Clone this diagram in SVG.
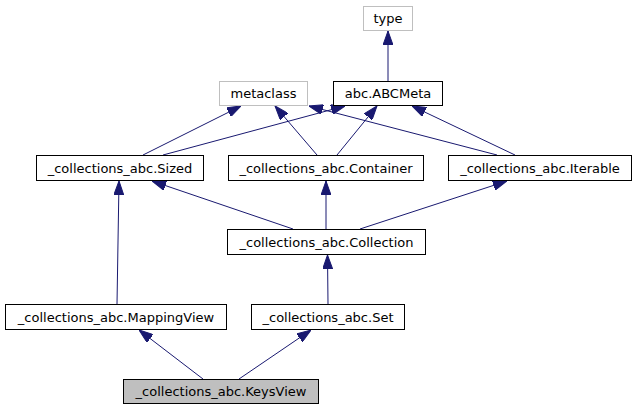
<svg xmlns="http://www.w3.org/2000/svg" width="637" height="411" viewBox="0 0 637 411">
<style>
.n rect{fill:#ffffff;stroke:#000000;stroke-width:1}
.g rect{stroke:#bfbfbf}
.cur rect{fill:#bfbfbf}
text{font-family:"DejaVu Sans",sans-serif;font-size:13px;text-anchor:middle;fill:#000000}
.e line{stroke:#191970;stroke-width:1;marker-end:url(#ah)}
</style>
<defs>
<marker id="ah" markerUnits="userSpaceOnUse" markerWidth="14" markerHeight="10" refX="14" refY="5" orient="auto">
<path d="M0,0 L14,5 L0,10 z" fill="#191970" stroke="#191970" stroke-width="1"/>
</marker>
</defs>
<rect width="637" height="411" fill="#ffffff"/>
<g id="edges" class="e">
<line x1="388" y1="81" x2="388" y2="31"/>
<line x1="143" y1="155" x2="241" y2="106"/>
<line x1="163" y1="155" x2="345" y2="106"/>
<line x1="317" y1="155" x2="275" y2="106"/>
<line x1="337" y1="155" x2="377" y2="106"/>
<line x1="497" y1="155" x2="309" y2="106"/>
<line x1="515" y1="155" x2="412" y2="106"/>
<line x1="293" y1="229" x2="152" y2="181"/>
<line x1="326" y1="229" x2="326" y2="181"/>
<line x1="360" y1="229" x2="507" y2="181"/>
<line x1="117" y1="304" x2="119" y2="181"/>
<line x1="328" y1="304" x2="327.5" y2="255"/>
<line x1="203" y1="379" x2="139" y2="330"/>
<line x1="239" y1="379" x2="311" y2="330"/>
</g>
<g id="type" class="n g"><rect x="363.5" y="6.5" width="49" height="24"/><text x="388" y="23">type</text></g>
<g id="metaclass" class="n g"><rect x="219.5" y="81.5" width="88" height="24"/><text x="263.5" y="98">metaclass</text></g>
<g id="ABCMeta" class="n"><rect x="333.5" y="81.5" width="109" height="24"/><text x="388" y="98">abc.ABCMeta</text></g>
<g id="Sized" class="n"><rect x="36.5" y="155.5" width="167" height="25"/><text x="120" y="172.5">_collections_abc.Sized</text></g>
<g id="Container" class="n"><rect x="228.5" y="155.5" width="195" height="25"/><text x="326" y="172.5">_collections_abc.Container</text></g>
<g id="Iterable" class="n"><rect x="448.5" y="155.5" width="183" height="25"/><text x="540" y="172.5">_collections_abc.Iterable</text></g>
<g id="Collection" class="n"><rect x="227.5" y="229.5" width="198" height="25"/><text x="326.5" y="246.5">_collections_abc.Collection</text></g>
<g id="MappingView" class="n"><rect x="5.5" y="304.5" width="221" height="25"/><text x="116" y="321.5">_collections_abc.MappingView</text></g>
<g id="Set" class="n"><rect x="251.5" y="304.5" width="153" height="25"/><text x="328" y="321.5">_collections_abc.Set</text></g>
<g id="KeysView" class="n cur"><rect x="123.5" y="379.5" width="195" height="24"/><text x="221" y="396">_collections_abc.KeysView</text></g>
</svg>
